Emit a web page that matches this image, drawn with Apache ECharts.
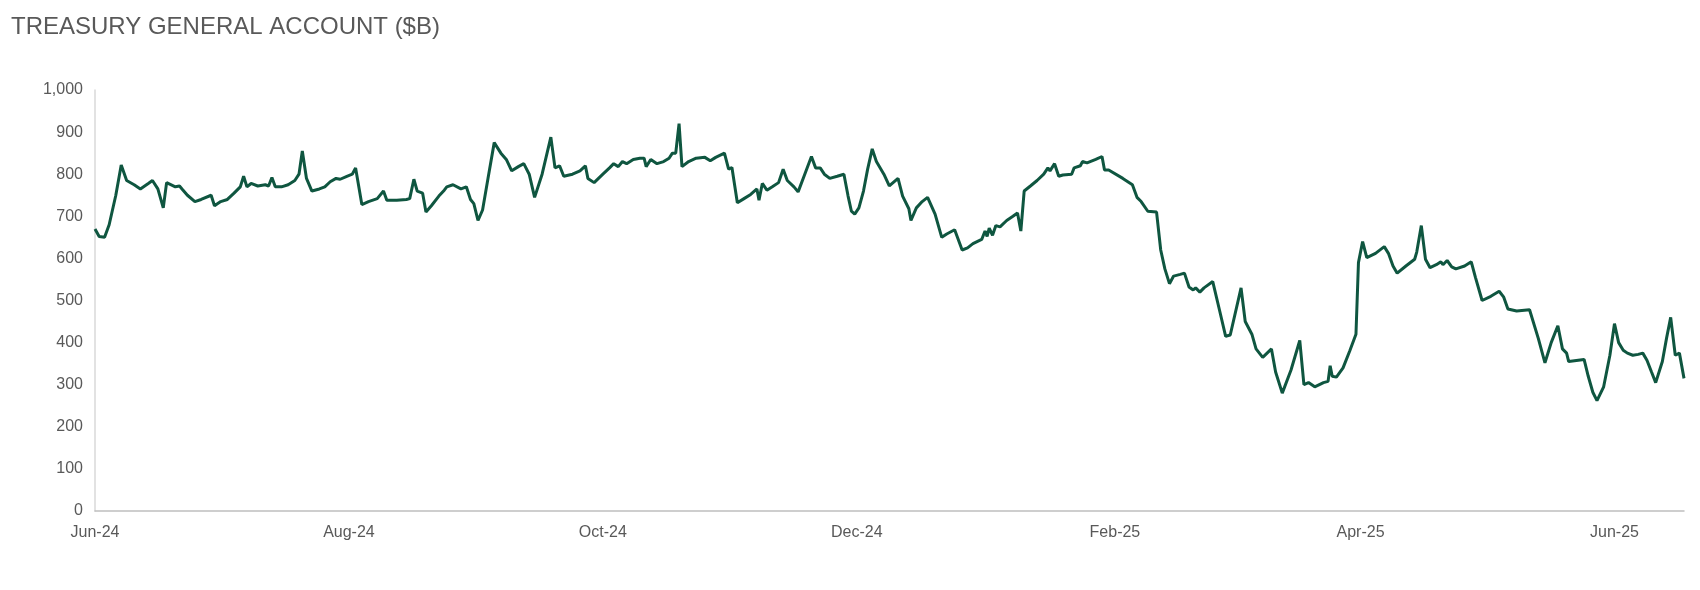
<!DOCTYPE html>
<html><head><meta charset="utf-8">
<script src="https://cdn.jsdelivr.net/npm/echarts@6/dist/echarts.min.js"></script>
<style>html,body{margin:0;padding:0;background:#fff}#c{width:1700px;height:590px}</style>
</head><body><div id="c"></div>
<script>
const startDate = [2024, 5, 1];
const dayOffsets = [0,1.0,2.3,3.4,5.0,6.3,7.6,9.4,10.9,12.8,13.8,15.1,16.4,17.2,19.3,20.3,20.9,22.2,24.0,25.5,27.9,28.7,30.2,31.8,33.4,34.9,35.7,36.5,37.5,39.1,40.9,41.7,42.5,43.3,44.8,46.4,48.0,49.0,49.8,50.8,52.1,53.9,55.2,56.5,57.9,58.9,60.5,61.8,62.6,64.1,65.7,67.8,69.3,70.1,72.5,74.8,75.6,76.6,77.4,78.7,79.5,80.8,82.6,83.9,84.5,86.0,87.9,89.2,90.2,91.0,92.0,93.1,94.4,95.9,97.5,98.8,100.1,101.7,103.0,104.3,105.6,107.4,109.5,110.5,111.6,112.6,114.7,116.5,117.8,118.4,119.9,122.0,123.6,124.6,125.7,126.7,127.7,129.3,130.9,131.9,132.4,133.5,135.0,136.6,137.9,138.7,139.5,140.3,141.0,142.6,144.4,146.5,147.8,149.1,151.2,152.2,153.0,154.3,155.9,157.5,159.0,159.5,160.3,161.4,162.7,164.2,165.3,166.3,167.9,168.9,170.5,172.1,173.1,174.2,175.2,176.5,178.3,179.9,180.9,181.7,182.5,183.5,184.6,185.6,186.7,187.7,189.5,190.8,192.9,194.0,195.5,196.0,197.3,198.7,200.0,201.8,203.4,204.6,206.5,208.3,209.6,210.9,213.0,213.8,214.3,214.8,215.6,216.4,217.4,219.0,220.5,221.6,222.4,223.2,224.7,226.3,227.9,228.9,229.4,230.5,231.5,232.5,234.6,235.2,236.7,237.2,238.3,240.4,241.9,242.5,243.5,246.9,249.2,250.3,251.3,252.9,255.0,256.0,257.0,258.1,259.1,260.7,261.7,262.8,263.8,264.4,265.4,266.4,268.5,270.1,271.6,272.7,275.3,276.3,277.9,278.9,280.5,282.6,283.6,285.2,287.3,289.4,290.4,291.5,293.0,295.1,296.2,296.7,297.2,298.2,299.8,301.4,302.9,303.5,304.5,305.5,307.6,309.7,310.7,311.8,312.8,314.9,317.0,317.5,318.6,319.6,320.7,322.2,323.3,323.8,324.8,325.9,326.9,329.0,330.6,331.6,333.2,335.3,337.3,338.4,339.4,341.5,344.6,346.7,348.3,349.8,351.4,352.5,353.5,354.0,357.7,358.7,359.8,360.8,362.4,363.9,365.0,366.0,367.1,368.1,369.4,370.7,371.8,372.8,373.9,374.9,376.5,377.5,378.5,379.6,380.6,381.7];
const tgaValues = [670,652,650,680,750,822,785,775,765,778,785,765,720,780,770,772,765,750,735,740,750,725,735,740,755,770,795,770,778,772,775,772,792,770,770,775,785,800,855,790,760,765,770,782,790,788,795,800,815,728,735,742,760,738,738,740,742,788,760,755,710,725,748,762,770,775,765,770,740,730,690,715,790,875,850,835,808,818,825,800,745,800,888,815,820,795,800,808,820,790,780,800,815,825,818,830,825,835,838,838,818,835,825,830,838,850,850,920,818,830,838,840,832,840,850,812,816,732,742,752,765,738,778,762,770,780,812,785,770,758,800,842,815,815,800,790,795,800,748,712,705,720,760,812,860,830,800,772,790,748,718,690,720,735,745,705,650,658,668,620,625,635,645,665,652,672,655,678,675,690,700,708,665,760,772,785,800,815,808,825,795,798,800,815,820,830,827,835,842,810,810,790,775,745,735,712,710,620,575,540,558,562,565,532,525,530,520,530,545,478,415,418,530,450,420,385,365,385,330,280,335,405,300,305,295,305,308,345,320,318,340,380,420,590,640,602,612,628,612,582,565,582,598,615,678,598,578,585,592,585,595,580,575,582,592,555,500,510,522,508,480,475,478,410,352,400,440,385,375,355,360,320,282,262,295,370,445,400,382,375,370,372,375,358,330,305,355,410,460,370,375,315];
const yTicks = [0,100,200,300,400,500,600,700,800,900,1000];
const xTickMonths = [[2024,5],[2024,7],[2024,9],[2024,11],[2025,1],[2025,3],[2025,5]];
const monthNames = ['Jan','Feb','Mar','Apr','May','Jun','Jul','Aug','Sep','Oct','Nov','Dec'];

const DAY = 86400000;
const base = Date.UTC(startDate[0], startDate[1], startDate[2]);
const data = dayOffsets.map((d, i) => [d, tgaValues[i]]);
const xTicks = xTickMonths.map(m => Math.round((Date.UTC(m[0], m[1], 1) - base) / DAY));
const labelOf = {};
xTickMonths.forEach((m, i) => { labelOf[xTicks[i]] = monthNames[m[1]] + '-' + String(m[0]).slice(2); });
const chart = echarts.init(document.getElementById('c'));
chart.setOption({
  animation: false,
  title: { text: 'TREASURY GENERAL ACCOUNT ($B)', left: 6, top: 10,
    textStyle: { fontFamily: 'Arial, Liberation Sans', fontSize: 24, fontWeight: 'normal', color: '#595959' } },
  grid: { left: 95, right: 16, top: 90, bottom: 79 },
  xAxis: {
    type: 'value', min: 0, max: dayOffsets[dayOffsets.length - 1],
    axisLine: { lineStyle: { color: '#bfbfbf', width: 1.5 } },
    axisTick: { show: false },
    splitLine: { show: false },
    axisLabel: { customValues: xTicks, color: '#595959', fontSize: 16, fontFamily: 'Arial, Liberation Sans', margin: 14,
      formatter: v => labelOf[Math.round(v)] || '' }
  },
  yAxis: {
    type: 'value', min: 0, max: 1000, interval: 100,
    axisLine: { show: true, lineStyle: { color: '#d9d9d9', width: 1.5 } },
    axisTick: { show: false }, splitLine: { show: false },
    axisLabel: { color: '#595959', fontSize: 16, fontFamily: 'Arial, Liberation Sans', margin: 12,
      formatter: v => yTicks.includes(v) ? v.toLocaleString('en-US') : '' }
  },
  series: [{ type: 'line', data: data, showSymbol: false, lineStyle: { color: '#0f5640', width: 3 } }]
});
</script></body></html>
